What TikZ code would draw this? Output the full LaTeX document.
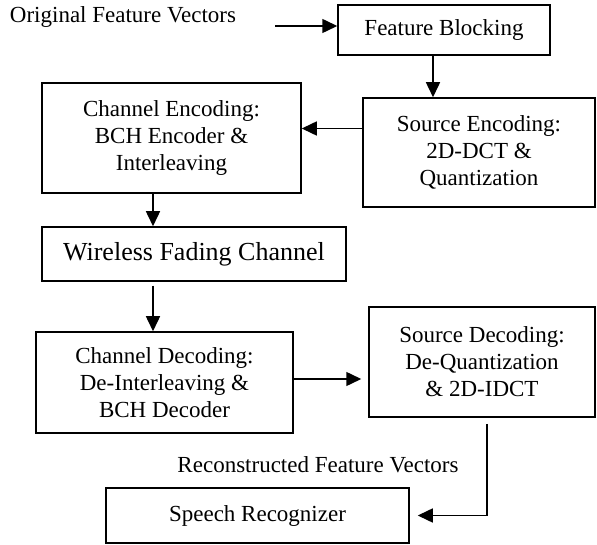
\documentclass[tikz,border=0pt]{standalone}
\usepackage{fontspec}
\setmainfont{Liberation Serif}
\usetikzlibrary{arrows.meta}
\tikzset{
  block/.style={draw, line width=1.5pt, align=center, inner sep=0pt,
    font=\fontsize{23}{27}\selectfont},
  arr/.style={line width=1.5pt, -{Triangle[length=15pt,width=14pt]}},
}
\begin{document}
\begin{tikzpicture}[x=1pt, y=-1pt]
    \useasboundingbox (0,0) rectangle (597,545);

    % Encoder side
    \node[font=\fontsize{23}{27}\selectfont] (orig) at (123,17) {Original Feature Vectors};
    \coordinate (in) at (275,26);
    \node[block, minimum width=212pt, minimum height=50pt] (fb) at (444,30) {Feature Blocking};
    \node[block, minimum width=232pt, minimum height=109pt] (se) at (479,152.5) {Source Encoding:\\ 2D-DCT \&\\ Quantization};
    \node[block, minimum width=259pt, minimum height=110pt] (ce) at (171.5,138) {Channel Encoding:\\ BCH Encoder \&\\ Interleaving};

    % Channel
    \node[block, minimum width=304pt, minimum height=54pt, font=\fontsize{26}{30}\selectfont] (wf) at (194,254) {Wireless Fading Channel};

    % Decoder side
    \node[block, minimum width=257pt, minimum height=101pt] (cd) at (164.5,382.5) {Channel Decoding:\\ De-Interleaving \&\\ BCH Decoder};
    \node[block, minimum width=226pt, minimum height=110pt] (sd) at (482,362) {Source Decoding:\\ De-Quantization\\ \& 2D-IDCT};
    \node[font=\fontsize{23}{27}\selectfont] (recon) at (318,465) {Reconstructed Feature Vectors};
    \node[block, minimum width=303pt, minimum height=55pt] (sr) at (257.5,515.5) {Speech Recognizer};

    % Arrows
    \draw[arr] (in) -- (in -| fb.west);
    \draw[arr] ([xshift=-11pt]fb.south) -- ([xshift=-11pt]fb.south |- se.north);
    \draw[arr] ([yshift=24pt]se.west) -- ([yshift=24pt]se.west -| ce.east);
    \draw[arr] ([xshift=-18.5pt]ce.south) -- ([xshift=-18.5pt]ce.south |- wf.north);
    \draw[arr, shorten <=4pt] ([xshift=-41pt]wf.south) -- ([xshift=-41pt]wf.south |- cd.north);
    \draw[arr, shorten >=7pt] ([yshift=3.5pt]cd.east) -- ([yshift=3.5pt]cd.east -| sd.west);
    \draw[arr, shorten <=6pt, shorten >=8pt] ([xshift=5pt]sd.south) |- (sr.east);
\end{tikzpicture}
\end{document}
